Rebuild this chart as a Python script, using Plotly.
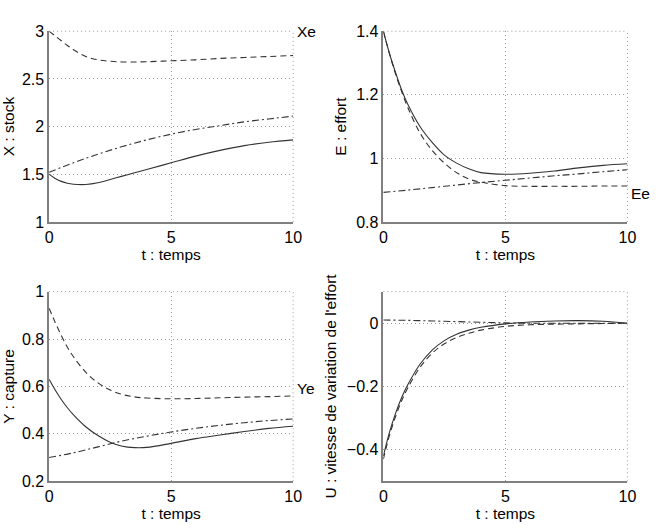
import plotly.graph_objects as go

# ---------------- data ----------------
t = [0, 0.25, 0.5, 0.75, 1, 1.5, 2, 2.5, 3, 3.5, 4, 5, 6, 7, 8, 9, 10]
t_lin = [0, 1, 2, 3, 4, 5, 6, 7, 8, 9, 10]

x_solid = [1.50, 1.455, 1.425, 1.405, 1.395, 1.392, 1.41, 1.445, 1.48, 1.515, 1.55, 1.62, 1.69, 1.75, 1.80, 1.835, 1.86]
x_dash = [3.00, 2.95, 2.90, 2.85, 2.805, 2.735, 2.70, 2.685, 2.678, 2.677, 2.68, 2.69, 2.70, 2.715, 2.725, 2.735, 2.745]
x_dashdot = [1.52, 1.62, 1.71, 1.79, 1.86, 1.92, 1.97, 2.01, 2.05, 2.08, 2.11]

e_solid = [1.40, 1.33, 1.27, 1.215, 1.17, 1.10, 1.05, 1.01, 0.985, 0.967, 0.955, 0.95, 0.953, 0.96, 0.97, 0.978, 0.983]
e_dash = [1.40, 1.33, 1.265, 1.21, 1.16, 1.08, 1.025, 0.985, 0.955, 0.935, 0.925, 0.914, 0.912, 0.912, 0.912, 0.913, 0.913]
e_dashdot = [0.893, 0.900, 0.908, 0.916, 0.924, 0.931, 0.938, 0.945, 0.951, 0.958, 0.964]

y_solid = [0.63, 0.585, 0.545, 0.51, 0.48, 0.43, 0.393, 0.365, 0.348, 0.342, 0.343, 0.36, 0.38, 0.395, 0.41, 0.423, 0.432]
y_dash = [0.93, 0.87, 0.815, 0.765, 0.725, 0.66, 0.615, 0.585, 0.566, 0.556, 0.551, 0.548, 0.549, 0.552, 0.555, 0.557, 0.56]
y_dashdot = [0.30, 0.32, 0.345, 0.37, 0.39, 0.408, 0.423, 0.436, 0.447, 0.456, 0.463]

u_solid = [-0.42, -0.345, -0.285, -0.235, -0.195, -0.13, -0.085, -0.055, -0.035, -0.022, -0.013, -0.002, 0.004, 0.007, 0.008, 0.006, 0.0]
u_dash = [-0.43, -0.355, -0.295, -0.245, -0.205, -0.14, -0.095, -0.065, -0.045, -0.032, -0.022, -0.01, -0.005, -0.003, -0.002, -0.001, 0.0]
u_dashdot = [0.01, 0.009, 0.007, 0.005, 0.003, 0.001, 0.0, 0.0, 0.0, 0.0, 0.0]

xticks = [0, 5, 10]
xticktext = ["0", "5", "10"]
yticks_x = [1, 1.5, 2, 2.5, 3]
yticktext_x = ["1", "1.5", "2", "2.5", "3"]
yticks_e = [0.8, 1.0, 1.2, 1.4]
yticktext_e = ["0.8", "1", "1.2", "1.4"]
yticks_y = [0.2, 0.4, 0.6, 0.8, 1.0]
yticktext_y = ["0.2", "0.4", "0.6", "0.8", "1"]
yticks_u = [-0.4, -0.2, 0.0]
yticktext_u = ["\u22120.4", "\u22120.2", "0"]

ylabels = ["X : stock", "E : effort", "Y : capture", "U : vitesse de variation de l'effort"]
xlabel = "t : temps"

# ---------------- figure ----------------
W, H = 658, 529
FONT = "Liberation Sans, Arial, sans-serif"
LC = "#333333"
GC = "#9a9a9a"
GDASH = "1px,3px"
DASH = "6px,4px"
DASHDOT = "7px,3px,2px,3px"

fig = go.Figure()

panels = [
    (x_solid, x_dash, x_dashdot, yticks_x, yticktext_x, [1, 3]),
    (e_solid, e_dash, e_dashdot, yticks_e, yticktext_e, [0.8, 1.4]),
    (y_solid, y_dash, y_dashdot, yticks_y, yticktext_y, [0.2, 1.0]),
    (u_solid, u_dash, u_dashdot, yticks_u, yticktext_u, [-0.5, 0.1]),
]

# pixel boxes (left, right, top, bottom)
boxes = [(46, 295, 24, 221), (387, 636, 24, 221), (46, 295, 293, 489), (387, 636, 293, 489)]

for i, (s, d, dd, yt, ytt, yr) in enumerate(panels):
    n = "" if i == 0 else str(i + 1)
    xa, ya = "x" + n, "y" + n
    fig.add_trace(go.Scatter(x=t, y=d, mode="lines", xaxis=xa, yaxis=ya,
                             line=dict(color=LC, width=1.1, dash=DASH, shape="spline")))
    fig.add_trace(go.Scatter(x=t_lin, y=dd, mode="lines", xaxis=xa, yaxis=ya,
                             line=dict(color=LC, width=1.1, dash=DASHDOT, shape="spline")))
    fig.add_trace(go.Scatter(x=t, y=s, mode="lines", xaxis=xa, yaxis=ya,
                             line=dict(color=LC, width=1.1, shape="spline")))
    l, r, tp, b = boxes[i]
    common = dict(showgrid=True, gridcolor=GC, griddash=GDASH, gridwidth=1,
                  zeroline=False, showline=True, linecolor="#808080", linewidth=1.5,
                  ticks="", tickfont=dict(family=FONT, size=16, color="#000"))
    fig.layout["xaxis" + n] = dict(domain=[l / W, r / W], anchor=ya, range=[0, 10],
                                   tickvals=xticks, ticktext=xticktext,
                                   title=dict(text=xlabel, standoff=2,
                                              font=dict(family=FONT, size=15.5, color="#000")),
                                   **common)
    fig.layout["yaxis" + n] = dict(domain=[1 - b / H, 1 - tp / H], anchor=xa, range=yr,
                                   tickvals=yt, ticktext=ytt,
                                   title=dict(text=ylabels[i], standoff=6,
                                              font=dict(family=FONT, size=15.5, color="#000")),
                                   **common)
    # dotted top and right borders
    fig.add_shape(type="line", xref=xa + " domain", yref=ya + " domain", x0=0, x1=1, y0=1, y1=1,
                  line=dict(color=GC, width=1, dash=GDASH))
    fig.add_shape(type="line", xref=xa + " domain", yref=ya + " domain", x0=1, x1=1, y0=0, y1=1,
                  line=dict(color=GC, width=1, dash=GDASH))

labels = [("Xe", "x", "y", 10, 3.0), ("Ee", "x2", "y2", 10, 0.888), ("Ye", "x3", "y3", 10, 0.59)]
for txt, xr, yr_, xv, yv in labels:
    fig.add_annotation(text=txt, x=xv, y=yv, xref=xr, yref=yr_, xanchor="left", yanchor="middle",
                       xshift=2, showarrow=False, font=dict(family=FONT, size=15.5, color="#000"))

fig.update_layout(width=W, height=H, margin=dict(l=0, r=0, t=0, b=0),
                  paper_bgcolor="white", plot_bgcolor="white", showlegend=False)

fig.write_html("out.html")
